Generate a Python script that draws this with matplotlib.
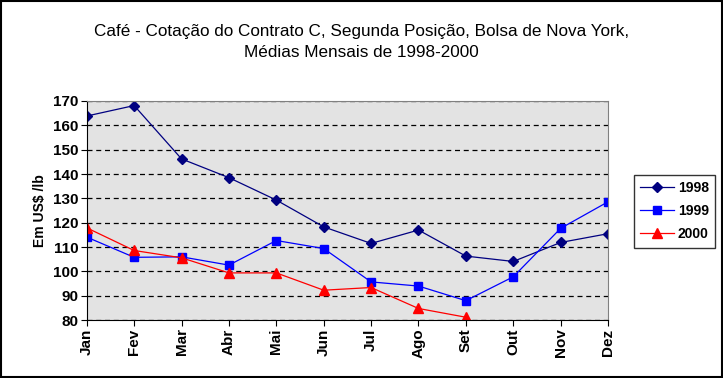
import matplotlib
matplotlib.use('Agg')
import matplotlib.pyplot as plt

meses = ['Jan', 'Fev', 'Mar', 'Abr', 'Mai', 'Jun', 'Jul', 'Ago', 'Set', 'Out', 'Nov', 'Dez']
v1998 = [163.8, 168.1, 146.2, 138.5, 129.3, 118.3, 111.5, 117.0, 106.3, 104.1, 111.9, 115.5]
v1999 = [114.1, 105.8, 106.0, 102.6, 112.7, 109.4, 95.7, 94.0, 88.0, 97.8, 117.7, 128.6]
v2000 = [117.9, 108.6, 105.6, 99.4, 99.4, 92.3, 93.4, 84.8, 81.2]

plt.rcParams['font.family'] = ['Liberation Sans', 'DejaVu Sans']

fig = plt.figure(figsize=(7.23, 3.78), dpi=100)
ax = fig.add_axes([0.120, 0.153, 0.721, 0.580])
ax.set_facecolor('#e3e3e3')

x = list(range(len(meses)))
ax.plot(x, v1998, c='#000080', lw=0.9, marker='D', ms=5, label='1998')
ax.plot(x, v1999, c='#0000ff', lw=0.9, marker='s', ms=6, label='1999')
ax.plot(x[:len(v2000)], v2000, c='#ff0000', lw=0.9, marker='^', ms=7, label='2000')

ax.set_xlim(0, 11)
ax.set_ylim(80, 170)
ax.set_yticks(range(80, 171, 10))
ax.set_xticks(x)
ax.set_xticklabels(meses, rotation=90, fontsize=11, fontweight='bold')
for t in ax.get_yticklabels():
    t.set_fontsize(11)
    t.set_fontweight('bold')
ax.tick_params(axis='both', length=4, width=0.8, color='black', pad=2)
ax.yaxis.grid(True, ls=(0, (4, 3)), c='black', lw=0.9)
ax.set_axisbelow(True)
ax.spines['top'].set_color('#808080')
ax.spines['right'].set_color('#808080')
ax.set_ylabel('Em US$ /lb', fontsize=10, fontweight='bold', labelpad=4)

fig.text(0.5, 0.916, 'Café - Cotação do Contrato C, Segunda Posição, Bolsa de Nova York,',
         ha='center', va='center', fontsize=12.3)
fig.text(0.5, 0.862, 'Médias Mensais de 1998-2000', ha='center', va='center', fontsize=12.3)

leg = fig.legend(loc='upper left', bbox_to_anchor=(634 / 723, 1 - 175 / 378), frameon=True,
                 fancybox=False, edgecolor='black', fontsize=10, handlelength=2.4,
                 handletextpad=0.3, borderpad=0.45, labelspacing=0.65, borderaxespad=0)
leg.get_frame().set_linewidth(1.0)
for t in leg.get_texts():
    t.set_fontweight('bold')

fig.patches.append(plt.Rectangle((0.001, 0.002), 0.997, 0.996, transform=fig.transFigure,
                                 fill=False, ec='black', lw=1.5))

fig.savefig('out.png', dpi=100)
